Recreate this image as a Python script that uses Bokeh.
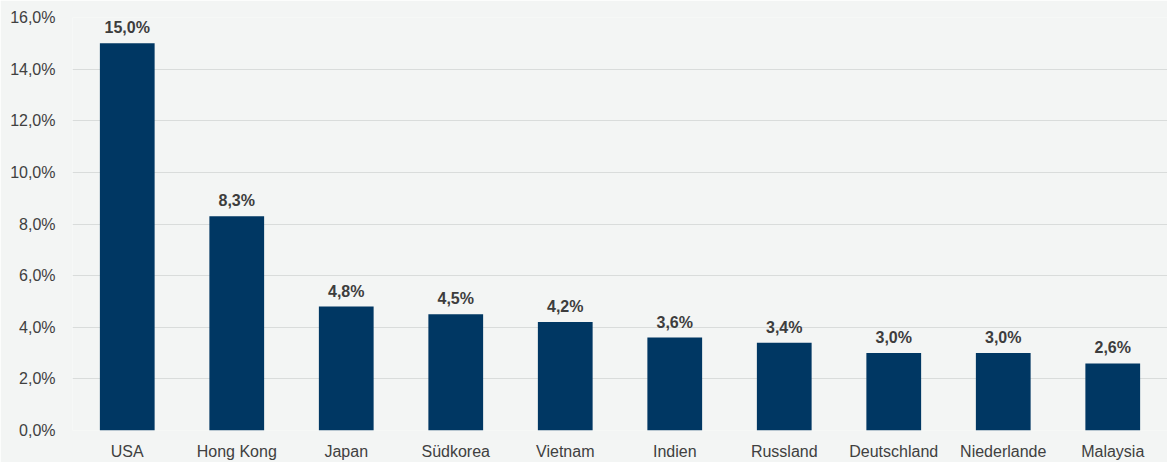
from bokeh.plotting import figure
from bokeh.models import ColumnDataSource, Range1d, FactorRange, CustomJSTickFormatter, FixedTicker
from bokeh.core.properties import value
from bokeh.embed import file_html
from bokeh.resources import INLINE

countries = ["USA", "Hong Kong", "Japan", "Südkorea", "Vietnam", "Indien", "Russland",
             "Deutschland", "Niederlande", "Malaysia"]
shares = [15.0, 8.3, 4.8, 4.5, 4.2, 3.6, 3.4, 3.0, 3.0, 2.6]
y_ticks = [0, 2, 4, 6, 8, 10, 12, 14, 16]

labels = [f"{v:.1f}%".replace(".", ",") for v in shares]
src = ColumnDataSource(dict(x=countries, y=shares, lab=labels))

BG = "#f3f5f4"
p = figure(width=1167, height=462, x_range=FactorRange(*countries, range_padding=0),
           y_range=Range1d(0, 16), output_backend="svg", toolbar_location=None,
           background_fill_color=BG, border_fill_color=BG, outline_line_color=None,
           min_border_left=72, min_border_right=0, min_border_top=17, min_border_bottom=20)

p.vbar(x="x", top="y", width=0.5, source=src, fill_color="#003763", line_color=None)
p.text(x="x", y="y", text="lab", source=src, text_align="center", text_baseline="bottom",
       y_offset=-7, text_font=value("Liberation Sans"), text_font_size="16px",
       text_font_style="bold", text_color="#3d3d3d")

p.yaxis.ticker = FixedTicker(ticks=y_ticks)
p.yaxis.formatter = CustomJSTickFormatter(code="return tick.toFixed(1).replace('.', ',') + '%';")
for ax in (p.xaxis, p.yaxis):
    ax.axis_line_color = None
    ax.major_tick_line_color = None
    ax.minor_tick_line_color = None
    ax.major_label_text_font = "Liberation Sans"
    ax.major_label_text_font_size = "16px"
    ax.major_label_text_color = "#404040"
p.yaxis.major_label_standoff = 11
p.xaxis.major_label_standoff = 6
p.xgrid.grid_line_color = None
p.ygrid.grid_line_color = "#d9dcdb"
p.ygrid.grid_line_width = 1

open("out.html", "w").write(file_html(p, INLINE))
